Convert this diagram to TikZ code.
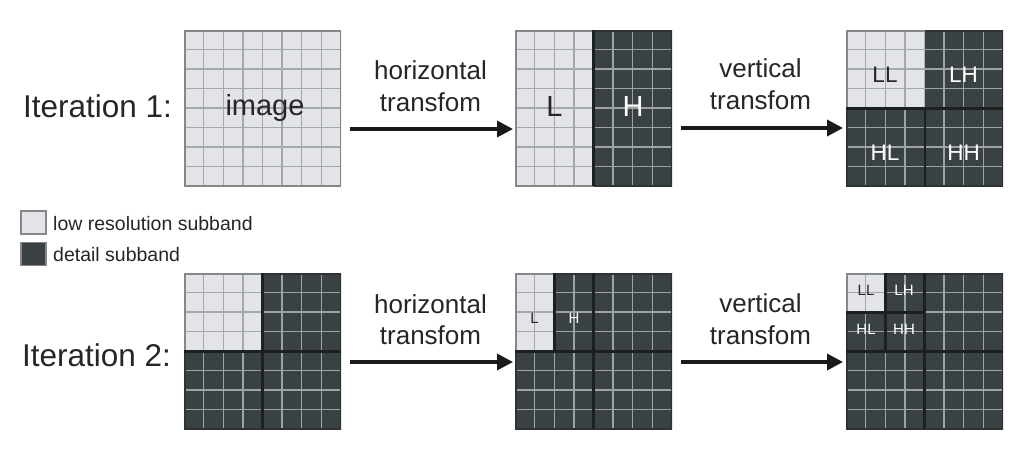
\documentclass[tikz,border=0pt]{standalone}
\usepackage{fontspec}
\setmainfont{Liberation Sans}
\usetikzlibrary{arrows.meta}
\definecolor{lofillc}{HTML}{E2E4E8}
\definecolor{lolinec}{HTML}{A4A7AB}
\definecolor{hifillc}{HTML}{3A4143}
\definecolor{hilinec}{HTML}{9EA4A5}
\definecolor{sepc}{HTML}{1C2021}
\definecolor{borderc}{HTML}{85888B}
\definecolor{hibordc}{HTML}{2E3436}
\definecolor{txtc}{HTML}{262626}
\definecolor{arrc}{HTML}{1A1A1A}
\newcommand\subreg[5]{%
  \begin{scope}
    \clip (#1,#2) rectangle (#3,#4);
    \fill[#5fill] (#1,#2) rectangle (#3,#4);
    \foreach \k in {1,...,7}{%
      \draw[#5line] (\k,0) -- (\k,8);
      \draw[#5line] (0,\k) -- (8,\k);
    }
    \draw[#5bord] (0,0) rectangle (8,8);
  \end{scope}}
\tikzset{
  lofill/.style={fill=lofillc},
  hifill/.style={fill=hifillc},
  loline/.style={draw=lolinec, line width=1.3pt},
  hiline/.style={draw=hilinec, line width=1.3pt},
  lobord/.style={draw=borderc, line width=3pt},
  hibord/.style={draw=hibordc, line width=3pt},
  sepline/.style={draw=sepc, line width=3pt},
  thinsep/.style={draw=sepc, line width=2pt},
  cellunits/.style={x=19.625pt, y=-19.5pt},
  itlab/.style={font=\fontsize{31.5}{36}\selectfont, text=txtc, anchor=base west, inner sep=0pt},
  arrlab/.style={font=\fontsize{26}{30}\selectfont, text=txtc, anchor=base, inner sep=0pt},
  biglab/.style={font=\fontsize{29}{34}\selectfont, anchor=base, inner sep=0pt},
  midlab/.style={font=\fontsize{22.5}{26}\selectfont, anchor=base, inner sep=0pt},
  smalllab/.style={font=\fontsize{15}{18}\selectfont, anchor=base, inner sep=0pt},
  leglab/.style={font=\fontsize{19.5}{23}\selectfont, text=txtc, anchor=west, inner sep=0pt},
  legbox/.style={draw=borderc, line width=1.3pt, minimum width=25pt, minimum height=23pt, inner sep=0pt},
  transarrow/.style={draw=arrc, line width=3.6pt, -{Triangle[length=16pt,width=16pt]}},
}
\begin{document}
\begin{tikzpicture}[x=1pt,y=-1pt]
\useasboundingbox (0,0) rectangle (1026,453);
\fill[white] (0,0) rectangle (1026,453);

% ---------- Row 1 ----------
% grid 1: image
\begin{scope}[shift={(184,30)},cellunits]
  \subreg{0}{0}{8}{8}{lo}
\end{scope}
% grid 2: L | H
\begin{scope}[shift={(515,30)},cellunits]
  \subreg{0}{0}{4}{8}{lo}
  \subreg{4}{0}{8}{8}{hi}
  \draw[sepline] (4,0) -- (4,8);
\end{scope}
% grid 3: LL LH HL HH
\begin{scope}[shift={(846,30)},cellunits]
  \subreg{0}{0}{8}{8}{hi}
  \subreg{0}{0}{4}{4}{lo}
  \draw[sepline] (0,4) -- (8,4);
  \draw[thinsep] (4,4) -- (4,8);
\end{scope}

% ---------- Row 2 ----------
\begin{scope}[shift={(184,273)},cellunits]
  \subreg{0}{0}{8}{8}{hi}
  \subreg{0}{0}{4}{4}{lo}
  \draw[sepline] (0,4) -- (8,4);
  \draw[sepline] (4,0) -- (4,8);
\end{scope}
\begin{scope}[shift={(515,273)},cellunits]
  \subreg{0}{0}{8}{8}{hi}
  \subreg{0}{0}{2}{4}{lo}
  \draw[sepline] (0,4) -- (8,4);
  \draw[sepline] (4,0) -- (4,8);
  \draw[sepline] (2,0) -- (2,4);
\end{scope}
\begin{scope}[shift={(846,273)},cellunits]
  \subreg{0}{0}{8}{8}{hi}
  \subreg{0}{0}{2}{2}{lo}
  \draw[sepline] (0,4) -- (8,4);
  \draw[sepline] (4,0) -- (4,8);
  \draw[sepline] (2,0) -- (2,4);
  \draw[sepline] (0,2) -- (4,2);
\end{scope}

% ---------- grid labels ----------
\node[biglab, text=txtc] (limg) at (265,115) {image};
\node[biglab, text=txtc] (lL1) at (554.5,116.5) {L};
\node[biglab, text=white] (lH1) at (633,116.5) {H};
\node[midlab, text=txtc] (lLL1) at (885,82.5) {LL};
\node[midlab, text=white] (lLH1) at (963.5,82.5) {LH};
\node[midlab, text=white] (lHL1) at (885,160) {HL};
\node[midlab, text=white] (lHH1) at (963.5,160) {HH};

\node[smalllab, text=txtc] (lL2) at (534.5,323.5) {L};
\node[smalllab, text=white] (lH2) at (574,323.5) {H};
\node[smalllab, text=txtc] (lLL2) at (866,295) {LL};
\node[smalllab, text=white] (lLH2) at (904,295) {LH};
\node[smalllab, text=white] (lHL2) at (866,334) {HL};
\node[smalllab, text=white] (lHH2) at (904,334) {HH};

% ---------- iteration labels ----------
\node[itlab] (it1) at (23,117) {Iteration 1:};
\node[itlab] (it2) at (22,366) {Iteration 2:};

% ---------- arrows and labels ----------
\coordinate (a1s) at (350,129);
\coordinate (a1e) at (513,129);
\coordinate (a2s) at (681,128);
\coordinate (a2e) at (843,128);
\coordinate (a3s) at (350,362);
\coordinate (a3e) at (513,362);
\coordinate (a4s) at (681,362);
\coordinate (a4e) at (843,362);
\draw[transarrow] (a1s) -- (a1e);
\draw[transarrow] (a2s) -- (a2e);
\draw[transarrow] (a3s) -- (a3e);
\draw[transarrow] (a4s) -- (a4e);

\node[arrlab] (t1a) at (430.5,79.5) {horizontal};
\node[arrlab] (t1b) at (430.5,111.5) {transfom};
\node[arrlab] (t2a) at (760.5,77.5) {vertical};
\node[arrlab] (t2b) at (760.5,109.5) {transfom};
\node[arrlab] (t3a) at (430.5,313.5) {horizontal};
\node[arrlab] (t3b) at (430.5,344.5) {transfom};
\node[arrlab] (t4a) at (760.5,312) {vertical};
\node[arrlab] (t4b) at (760.5,344) {transfom};

% ---------- legend ----------
\node[legbox, fill=lofillc] (lg1) at (33.5,222.5) {};
\node[legbox, fill=hifillc] (lg2) at (33.5,254) {};
\node[leglab] (lgt1) at (53,224) {low resolution subband};
\node[leglab] (lgt2) at (53,255) {detail subband};
\end{tikzpicture}
\end{document}
